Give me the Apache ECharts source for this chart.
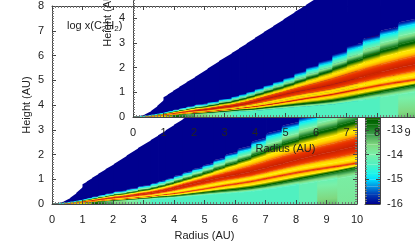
<!DOCTYPE html>
<html><head><meta charset="utf-8"><style>html,body{margin:0;padding:0;background:#fff;overflow:hidden}#c{width:415px;height:242px}</style>
<script src="https://cdn.jsdelivr.net/npm/echarts@6/dist/echarts.min.js"></script></head><body><div id="c"></div>
<script>
const radiusEdges=[0,.2,.4,.6,.8,1,1.14,1.32,1.52,1.76,2.03,2.45,2.82,3.24,3.48,3.73,4,4.29,4.6,4.94,5.3,5.68,6.09,6.54,7.02,7.54,8.1,8.7,9.36,10];
const wedgeTopLeft=[0,.03,.11,.25,.45,.8,.91,1.06,1.22,1.41,1.62,1.96,2.26,2.59,2.78,2.98,3.2,3.43,3.68,3.95,4.24,4.54,4.87,5.23,5.62,6.03,6.48,6.96,7.49];
const wedgeTopRight=[.03,.11,.25,.45,.7,.91,1.06,1.22,1.41,1.62,1.96,2.26,2.59,2.78,2.98,3.2,3.43,3.68,3.95,4.24,4.54,4.87,5.23,5.62,6.03,6.48,6.96,7.49,8];
const floorBottom=[-12.2,-12.1,-12,-12,-12,-12,-12.1,-12.5,-12.8,-13.1,-13.5,-13.8,-14.1,-14.4,-14.4,-14.4,-14.4,-14.4,-14.4,-14.4,-14.4,-14.4,-14.4,-14.4,-14.4,-14.4,-14.2,-13.45,-13.85];
const floorTop=[-12.2,-12.1,-12,-12,-12,-12.2,-12.4,-12.8,-13.1,-13.4,-13.7,-14,-14.2,-14.4,-14.4,-14.4,-14.4,-14.4,-14.4,-14.4,-14.4,-14.4,-14.4,-14.4,-14.4,-14.4,-14.2,-14.15,-13.95];
const stopValues=[-12.8,-12,-10.4,-12,-10.7,-10.1,-10.7,-12,-12.8,-14,-15,-16];
const stopSlant=[1,1,1,1,1,1,1,.9,.8,.6,.5,.5];
const floorTopHeights=[.001,.007,.015,.026,.037,.048,.059,.074,.09,.11,.13,.15,.19,.21,.23,.24,.27,.30,.34,.37,.41,.44,.48,.54,.63,.73,.85,.97,1.1];
const stopHeights=[
[.002,.002,.002,.002,.003,.003,.003,.004,.004,.005,.005,.006],
[.009,.010,.011,.012,.014,.016,.018,.020,.022,.024,.027,.028],
[.019,.022,.024,.027,.030,.034,.039,.042,.048,.052,.058,.062],
[.032,.037,.040,.045,.049,.056,.064,.070,.080,.086,.096,.102],
[.047,.053,.058,.065,.072,.081,.093,.102,.116,.126,.140,.149],
[.060,.069,.075,.084,.093,.106,.121,.133,.151,.163,.181,.193],
[.074,.085,.093,.104,.115,.130,.149,.163,.186,.201,.223,.238],
[.092,.106,.115,.129,.143,.161,.184,.203,.230,.249,.276,.295],
[.11,.13,.14,.16,.17,.20,.22,.25,.28,.30,.34,.36],
[.13,.15,.17,.19,.21,.23,.27,.30,.34,.36,.40,.43],
[.16,.19,.20,.23,.25,.28,.32,.35,.40,.44,.48,.52],
[.19,.22,.24,.27,.30,.34,.39,.43,.48,.52,.58,.62],
[.23,.27,.29,.33,.36,.41,.47,.51,.58,.63,.70,.74],
[.27,.31,.33,.37,.41,.47,.54,.59,.67,.72,.80,.85],
[.29,.34,.37,.41,.46,.51,.59,.65,.73,.79,.87,.93],
[.30,.35,.40,.46,.51,.58,.67,.74,.82,.89,.98,1.03],
[.34,.39,.44,.52,.58,.67,.77,.83,.93,1.01,1.10,1.16],
[.38,.44,.50,.58,.66,.76,.87,.94,1.04,1.13,1.23,1.30],
[.42,.49,.56,.65,.74,.85,.97,1.05,1.16,1.26,1.37,1.44],
[.46,.55,.63,.73,.83,.96,1.09,1.18,1.30,1.41,1.52,1.60],
[.51,.61,.71,.82,.92,1.06,1.21,1.34,1.46,1.58,1.72,1.82],
[.55,.67,.79,.90,1.00,1.15,1.33,1.50,1.63,1.77,1.95,2.05],
[.60,.73,.86,.97,1.08,1.24,1.47,1.65,1.80,1.95,2.14,2.28],
[.68,.82,.97,1.09,1.20,1.38,1.64,1.85,2.05,2.23,2.45,2.60],
[.79,.94,1.09,1.22,1.35,1.54,1.83,2.07,2.29,2.50,2.78,2.93],
[.92,1.07,1.22,1.36,1.50,1.72,2.02,2.28,2.53,2.79,3.08,3.24],
[1.06,1.20,1.35,1.50,1.66,1.90,2.20,2.50,2.77,3.08,3.37,3.56],
[1.21,1.33,1.46,1.62,1.80,2.07,2.40,2.68,3.02,3.36,3.70,3.90],
[1.38,1.48,1.58,1.76,1.96,2.25,2.60,2.92,3.28,3.66,4.02,4.27]];
const paletteValues=[-16,-15.6,-15.3,-15,-14.75,-14.4,-14,-13.6,-13.2,-12.8,-12.6,-12.3,-12,-11.5,-11,-10.5,-10,-9,-8];
const paletteColors=['#00008f','#0040b8','#0090e0','#00e0ff','#20f5e8','#50f0c0','#78f0a8','#80d880','#40a050','#0a700a','#006000','#80a000','#ffe800','#ffe000','#ffa800','#e83000','#c01c00','#a00000','#700000'];

const rgb=h=>[1,3,5].map(i=>parseInt(h.substr(i,2),16));
function colorAt(v){
  const P=paletteValues,C=paletteColors;
  if(v<=P[0])return C[0]; if(v>=P[P.length-1])return C[C.length-1];
  for(let i=0;i<P.length-1;i++) if(v<=P[i+1]){
    const t=(v-P[i])/(P[i+1]-P[i]),a=rgb(C[i]),b=rgb(C[i+1]);
    return 'rgb('+a.map((x,k)=>Math.round(x+(b[k]-x)*t)).join(',')+')';
  }
}
function gradStops(v0,v1){
  const s=[{offset:0,color:colorAt(v0)}];
  const lo=Math.min(v0,v1),hi=Math.max(v0,v1);
  if(hi>lo){
    paletteValues.forEach(p=>{if(p>lo&&p<hi)s.push({offset:(p-v0)/(v1-v0),color:colorAt(p)});});
    s.sort((a,b)=>a.offset-b.offset);
  }
  s.push({offset:1,color:colorAt(v1)});
  return s;
}
function heightsOf(i){return [floorTopHeights[i]].concat(stopHeights[i]);}
function renderWedge(params,api){
  const i=params.dataIndex,rl=radiusEdges[i],rr=radiusEdges[i+1];
  const n=stopHeights.length,H=heightsOf(i),Hp=i>0?heightsOf(i-1):H,Hn=i<n-1?heightsOf(i+1):H;
  const vals=[floorTop[i]].concat(stopValues),slant=[1].concat(stopSlant);
  const tl=wedgeTopLeft[i],tr=wedgeTopRight[i];
  const L=[0],R=[0],V=[floorBottom[i]];
  H.forEach((z,j)=>{
    const dl=i>0?z-Hp[j]:Hn[j]-z,dr=i<n-1?Hn[j]-z:z-Hp[j];
    L.push(Math.min(z-slant[j]*dl/2,tl));R.push(Math.min(z+slant[j]*dr/2,tr));V.push(vals[j]);
  });
  const overlap=(p)=>[p[0]+.8,p[1]];
  const children=[];
  const a0=api.coord([rl,L[L.length-1]]),b0=api.coord([rr,R[R.length-1]]),c0=api.coord([rr,tr]),d0=api.coord([rl,tl]);
  children.push({type:'polygon',shape:{points:[a0,i<n-1?overlap(b0):b0,i<n-1?overlap(c0):c0,d0]},style:{fill:colorAt(-16)}});
  for(let j=0;j<V.length-1;j++){
    const a=api.coord([rl,L[j]]),b=api.coord([rr,R[j]]),c=api.coord([rr,R[j+1]]),d=api.coord([rl,L[j+1]]);
    const ex=((b[0]-a[0])+(c[0]-d[0]))/2,ey=((b[1]-a[1])+(c[1]-d[1]))/2,el=Math.hypot(ex,ey)||1;
    const nx=-ey/el,ny=ex/el,px=(a[0]+b[0])/2,py=(a[1]+b[1])/2,qx=(c[0]+d[0])/2,qy=(c[1]+d[1])/2;
    const t=(qx-px)*nx+(qy-py)*ny;
    const fill=Math.abs(t)<.01?colorAt(V[j]):new echarts.graphic.LinearGradient(px,py,px+nx*t,py+ny*t,gradStops(V[j],V[j+1]),true);
    children.push({type:'polygon',shape:{points:[a,i<n-1?overlap(b):b,i<n-1?overlap(c):c,d]},style:{fill:fill,stroke:fill,lineWidth:.35}});
  }
  return {type:'group',children};
}
function renderBar(params,api){
  const i=params.dataIndex,v0=paletteValues[i],v1=paletteValues[i+1];
  const a=api.coord([0,v0]),b=api.coord([1,v1]);
  return {type:'rect',shape:{x:a[0],y:b[1],width:b[0]-a[0],height:a[1]-b[1]},
    style:{fill:new echarts.graphic.LinearGradient(0,a[1],0,b[1],[{offset:0,color:colorAt(v0)},{offset:1,color:colorAt(v1)}],true),stroke:null}};
}
const FONT='"Liberation Sans"',INK='#222',LINE='#444';
const wedgeData=radiusEdges.slice(0,-1).map((r,i)=>[r,radiusEdges[i+1],wedgeTopRight[i]]);
const barData=paletteValues.slice(0,-1).map((v,i)=>[0,1,v,paletteValues[i+1]]);
function axisBase(z,gridIndex,position,min,max,showLabel,margin){
  return {type:'value',gridIndex,position,min,max,interval:1,z,
    axisLine:{onZero:false,show:true,lineStyle:{color:LINE,width:1}},
    axisTick:{show:true,inside:true,length:4,lineStyle:{color:LINE,width:1}},
    minorTick:{show:true,splitNumber:10,length:2,lineStyle:{color:'#777',width:1}},
    splitLine:{show:false},minorSplitLine:{show:false},
    axisLabel:{show:showLabel,margin:margin,color:INK,fontFamily:FONT,fontSize:11,hideOverlap:false,showMinLabel:true,showMaxLabel:true}};
}
function named(a,name,gap){return Object.assign(a,{name,nameLocation:'middle',nameGap:gap,nameMoveOverlap:false,nameTextStyle:{color:INK,fontFamily:FONT,fontSize:11}});}
const grids=[
 {left:52,top:6,width:305,height:198,outerBoundsMode:'none'},
 {left:365,top:6,width:15,height:198,outerBoundsMode:'none'},
 {left:133,top:-81,width:305,height:198,outerBoundsMode:'none'}];
const plainX=(z,g,pos)=>Object.assign(axisBase(z,g,pos,0,1,false,0),{axisTick:{show:false},minorTick:{show:false}});
const xAxis=[
 named(axisBase(20,0,'bottom',0,10,true,10),'Radius (AU)',26),
 axisBase(20,0,'top',0,10,false,0),
 plainX(20,1,'bottom'),plainX(20,1,'top'),
 named(axisBase(40,2,'bottom',0,10,true,10),'Radius (AU)',26),
 axisBase(40,2,'top',0,10,false,0)];
const yAxis=[
 named(axisBase(20,0,'left',0,8,true,8),'Height (AU)',20),
 axisBase(20,0,'right',0,8,false,0),
 axisBase(20,1,'right',-16,-8,true,7),
 axisBase(20,1,'left',-16,-8,false,0),
 named(axisBase(40,2,'left',0,8,true,8),'Height (AU)',20),
 axisBase(40,2,'right',0,8,false,0)];
const chart=echarts.init(document.getElementById('c'),null,{renderer:'canvas'});
chart.setOption({animation:false,backgroundColor:'#fff',grid:grids,xAxis,yAxis,
 series:[
  {type:'custom',name:'main',xAxisIndex:0,yAxisIndex:0,z:10,clip:true,renderItem:renderWedge,data:wedgeData,encode:{x:[0,1],y:2},silent:true},
  {type:'custom',name:'colorbar',xAxisIndex:2,yAxisIndex:2,z:15,clip:true,renderItem:renderBar,data:barData,encode:{x:[0,1],y:[2,3]},silent:true},
  {type:'custom',name:'inset',xAxisIndex:4,yAxisIndex:4,z:30,clip:true,renderItem:renderWedge,data:wedgeData,encode:{x:[0,1],y:2},silent:true}
 ],
 graphic:[{type:'text',z:50,left:67,top:20,style:{text:'log x(C{s|2}H{s|2})',fill:INK,font:'11px "Liberation Sans"',rich:{s:{fontSize:8,fontFamily:FONT,fill:INK,padding:[6,0,0,0]}}}}]
});
</script></body></html>
